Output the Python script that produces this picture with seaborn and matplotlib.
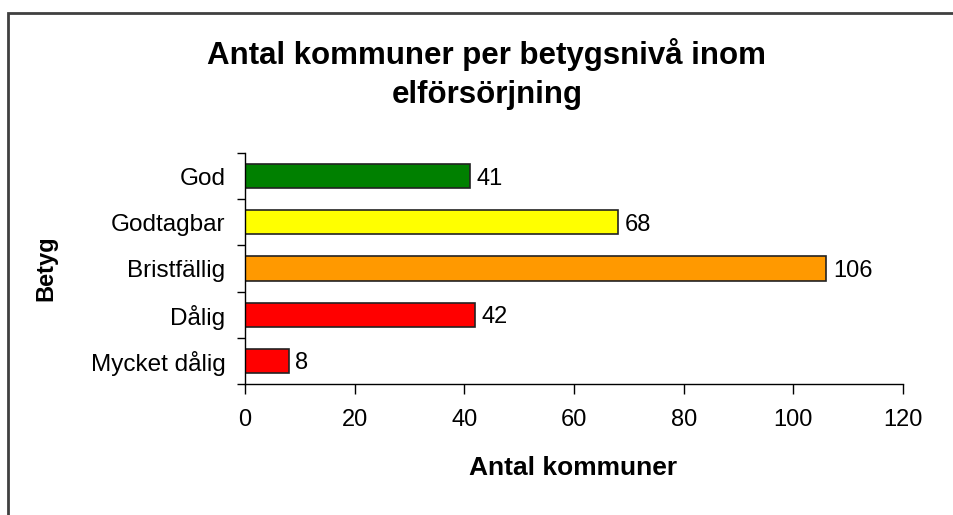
import numpy as np
import matplotlib.pyplot as plt
import seaborn as sns
from matplotlib.patches import Rectangle

# data
categories = ['God', 'Godtagbar', 'Bristfällig', 'Dålig', 'Mycket dålig']
values = [41, 68, 106, 42, 8]
colors = ['#008000', '#FFFF00', '#FF9900', '#FF0000', '#FF0000']
xticks = [0, 20, 40, 60, 80, 100, 120]

sns.set_style('white')
plt.rcParams['font.family'] = ['Liberation Sans', 'DejaVu Sans']
plt.rcParams['text.color'] = 'black'
plt.rcParams['axes.labelcolor'] = 'black'

fig = plt.figure(figsize=(9.54, 5.15), dpi=100)
ax = fig.add_axes([245/954, 1-384/515, (903-245)/954, (384-153)/515])

sns.barplot(x=values, y=categories, hue=categories, palette=colors,
            legend=False, orient='h', width=0.52, saturation=1,
            edgecolor='#222222', linewidth=1.2, ax=ax)

# value labels to the right of the bars
for i, v in enumerate(values):
    ax.text(v + 1.2, i, str(v), va='center_baseline', ha='left', fontsize=17)

ax.set_xlim(0, 120)
ax.set_ylim(4.5, -0.5)
ax.set_xticks(xticks)
ax.set_xticklabels([str(t) for t in xticks], fontsize=17)
ax.tick_params(axis='x', bottom=True, length=7, width=1, direction='out',
               pad=11, colors='black')

# category ticks sit between the bars
ax.set_yticks(range(len(categories)))
ax.set_yticklabels(categories, fontsize=17.5)
ax.set_yticks(np.arange(-0.5, len(categories), 1), minor=True)
ax.tick_params(axis='y', which='major', left=False, length=0, pad=14, colors='black')
ax.tick_params(axis='y', which='minor', left=True, length=6, width=1,
               direction='out', colors='black')

for s in ['top', 'right']:
    ax.spines[s].set_visible(False)
for s in ['left', 'bottom']:
    ax.spines[s].set_color('black')
    ax.spines[s].set_linewidth(1)

ax.set_xlabel('Antal kommuner', fontsize=19, fontweight='bold')
ax.xaxis.set_label_coords((573-245)/658, -(456-384)/231)
ax.set_ylabel('Betyg', fontsize=17, fontweight='bold')
ax.yaxis.set_label_coords(-(245-57)/658, 0.5)

fig.text(487/954, 1-74/515, 'Antal kommuner per betygsnivå inom\nelförsörjning',
         ha='center', va='center', fontsize=22.5, fontweight='bold', linespacing=1.4)

# outer chart frame
fig.patches.append(Rectangle((8/954, -0.1), 1.2, 1.1 - 13/515, transform=fig.transFigure,
                             fill=False, edgecolor='#404040', linewidth=2))

fig.savefig('out.png', dpi=100)
